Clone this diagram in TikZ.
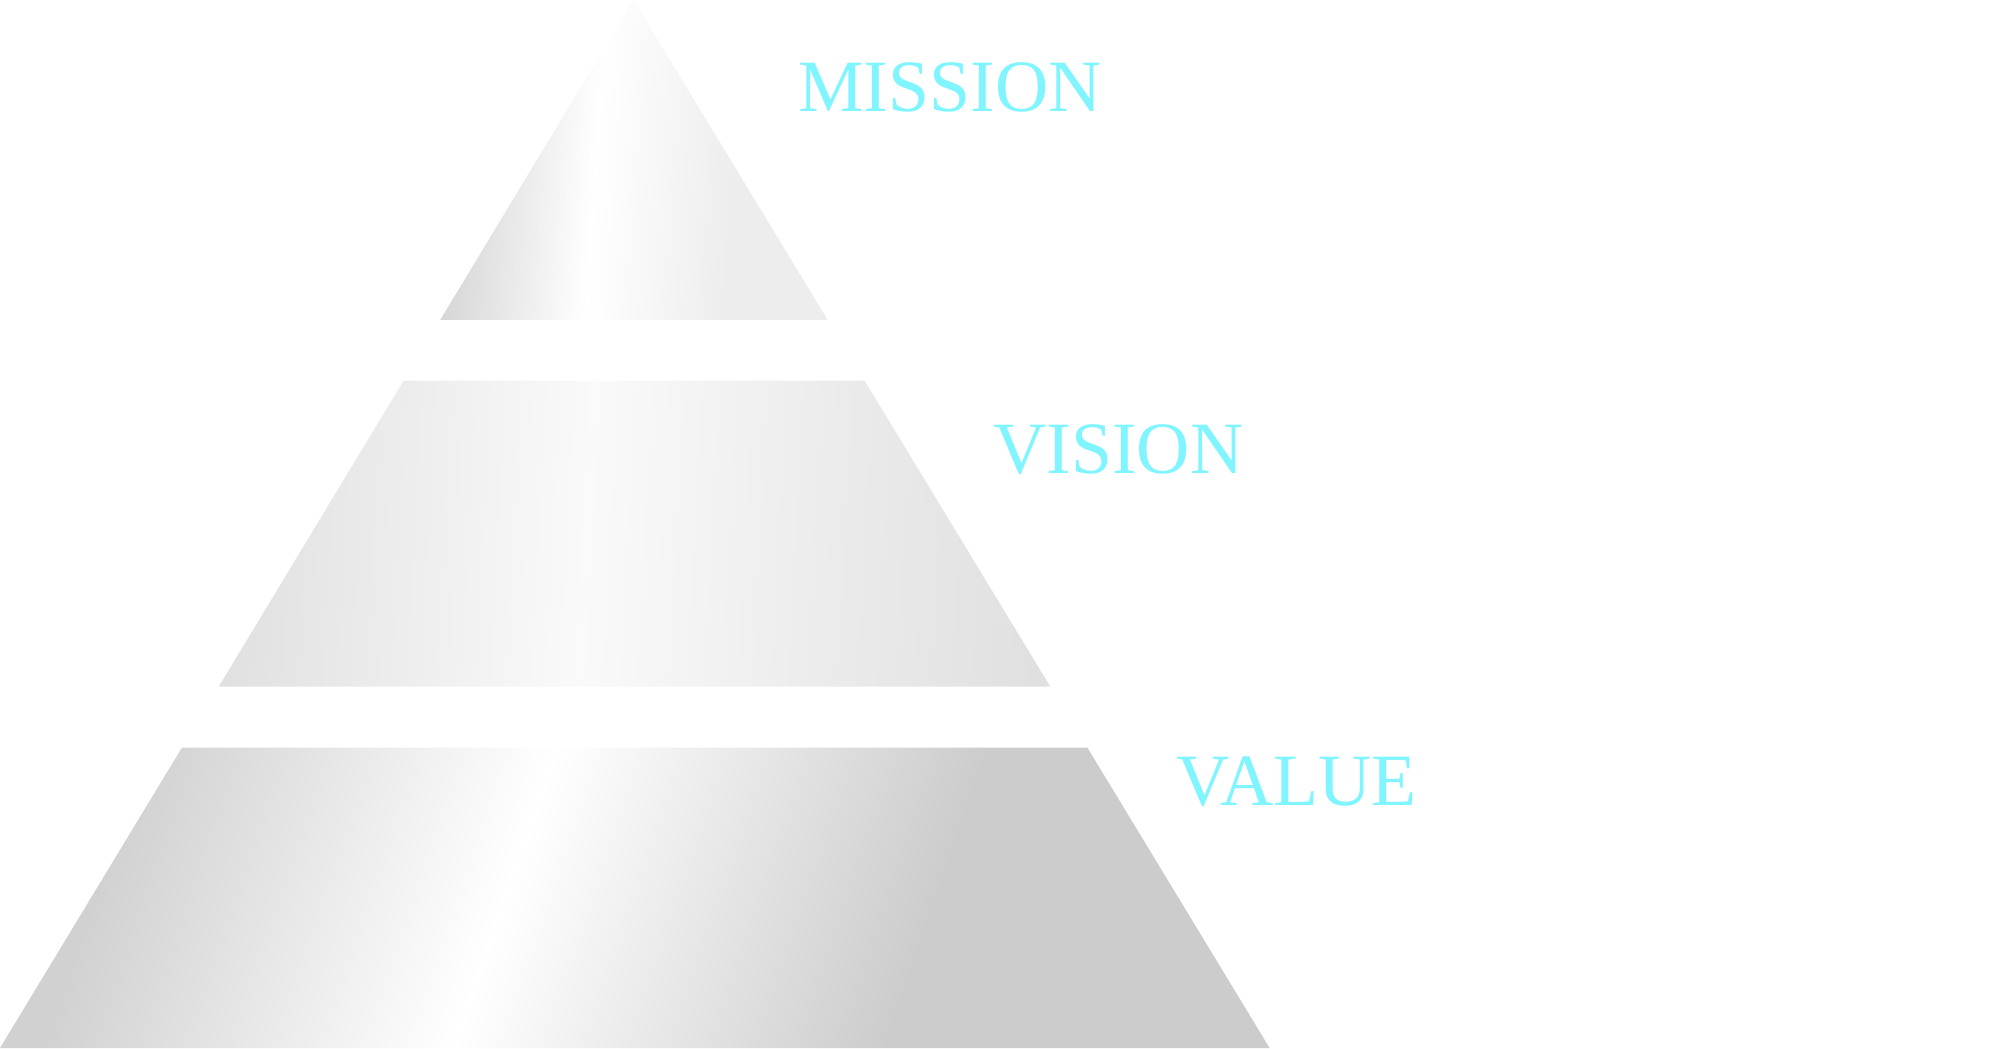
\documentclass[tikz,border=0pt]{standalone}
\usepackage{fontspec}
\setmainfont{Liberation Serif}
\usetikzlibrary{calc}
% Shadings of the three tiers
\pgfdeclarehorizontalshading{top shine}{100bp}{color(0bp)=(black!17); color(25bp)=(black!17); color(45bp)=(white); color(63bp)=(black!7); color(75bp)=(black!7); color(100bp)=(black!7)}
\pgfdeclarehorizontalshading{mid shine}{100bp}{color(0bp)=(black!12); color(25bp)=(black!12); color(47bp)=(black!2); color(63bp)=(black!8); color(75bp)=(black!12); color(100bp)=(black!12)}
\pgfdeclarehorizontalshading{low shine}{100bp}{color(0bp)=(black!18); color(25bp)=(black!18); color(44bp)=(white); color(64bp)=(black!20); color(75bp)=(black!20); color(100bp)=(black!20)}
\tikzset{
    % Colors
    label color/.style={color={rgb,255:red,128;green,245;blue,255}},
    %
    % Tiers
    tier/.style={shade,draw=none,shading=#1},
    tier top/.style={tier=top shine,shading angle=-4},
    tier mid/.style={tier=mid shine,shading angle=-3},
    tier low/.style={tier=low shine,shading angle=-19},
    %
    % Labels
    tier label/.style={label color,anchor=base west,inner sep=0pt,font=\fontsize{42}{50}\selectfont}
}

\begin{document}
\begin{tikzpicture}[x=0.02cm,y=0.02cm]
    \useasboundingbox (0,0) rectangle (1990,1048);
    % pyramid
    \path[tier top] (440.2,728) -- (633.5,1048) -- (827.7,728) -- cycle;
    \path[tier mid] (218.7,361.3) -- (403.6,667.3) -- (864.6,667.3) -- (1050.3,361.3) -- cycle;
    \path[tier low] (0,0) -- (181.9,300.3) -- (1087.4,300.3) -- (1269.6,0) -- cycle;
    % labels
    \node[tier label] (mission) at (798,936) {MISSION};
    \node[tier label] (vision) at (993,574) {VISION};
    \node[tier label] (value) at (1176,242) {VALUE};
\end{tikzpicture}
\end{document}
